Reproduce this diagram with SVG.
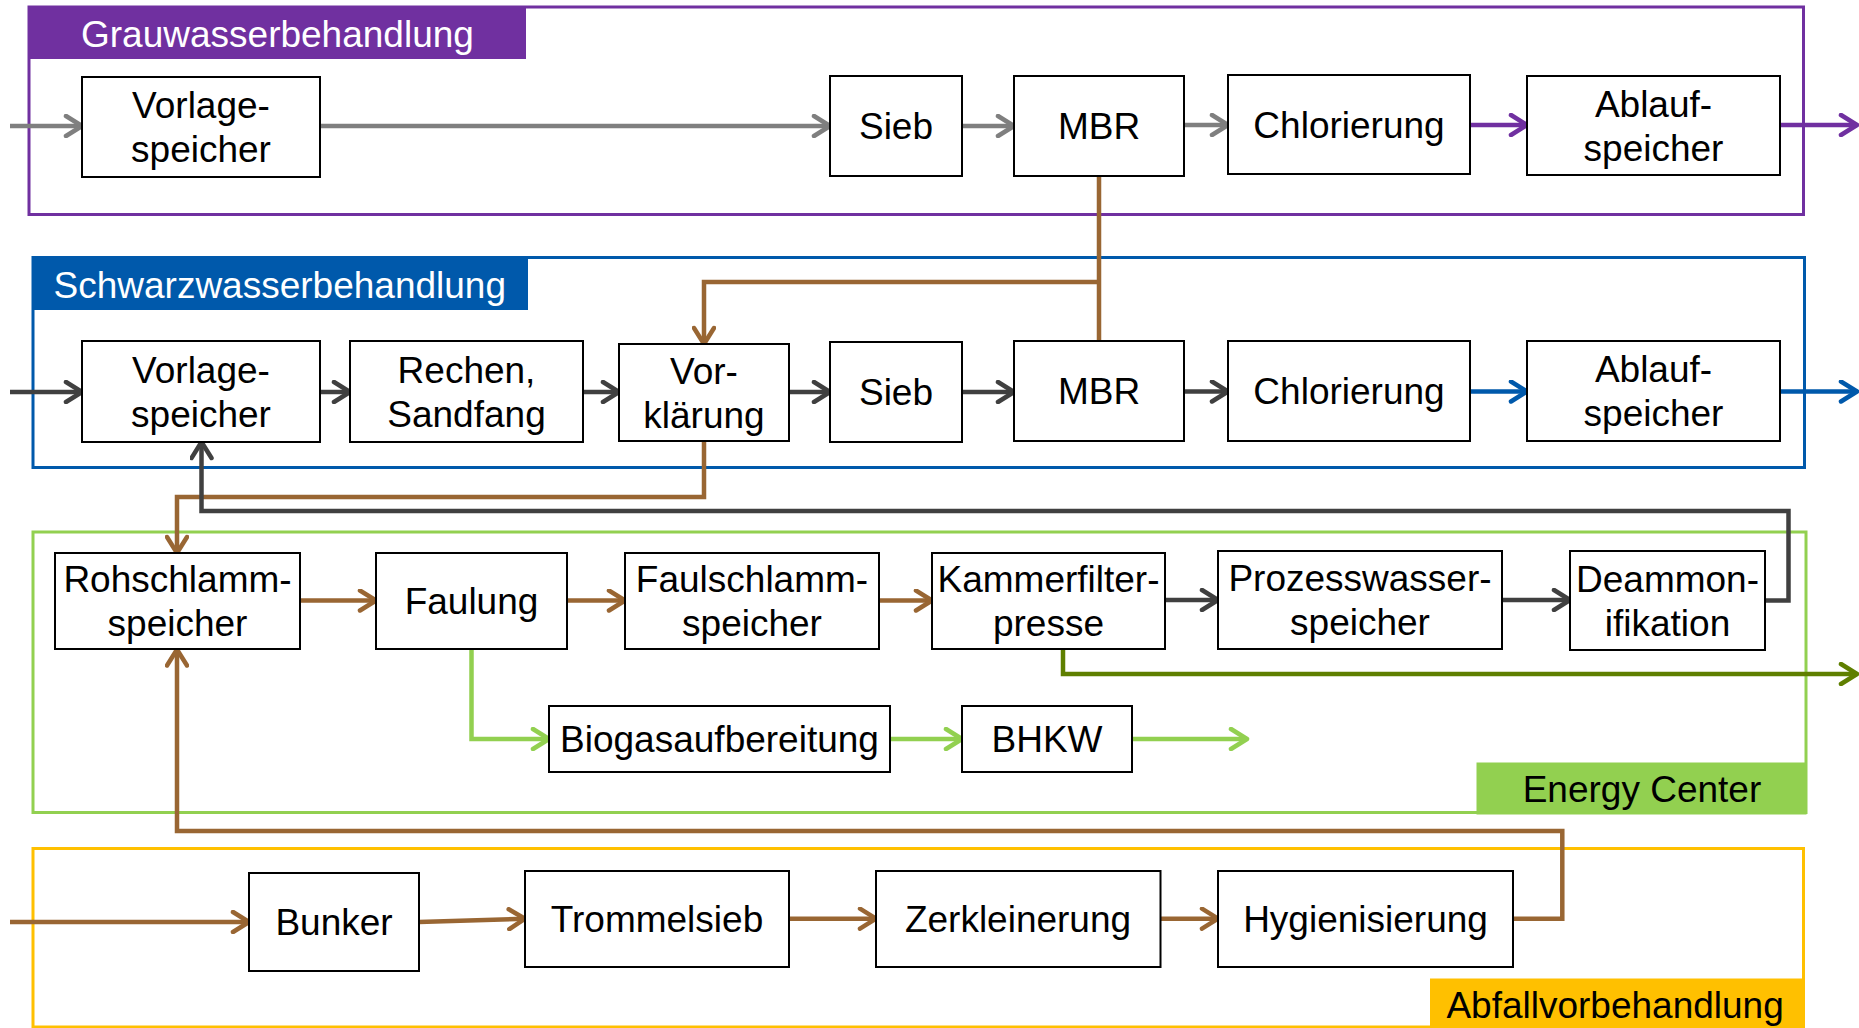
<svg xmlns="http://www.w3.org/2000/svg" width="1859" height="1028" viewBox="0 0 1859 1028">
<style>
text{font-family:"Liberation Sans",Arial,sans-serif;font-size:37px;fill:#000}
.c{text-anchor:middle}
.w{fill:#fff}
.box{fill:#fff;stroke:#000;stroke-width:2}
.fr{fill:none;stroke-width:3}
.ln{fill:none;stroke-width:4.5;stroke-linejoin:miter}
.gy{stroke:#7F7F7F}.pu{stroke:#7030A0}.bl{stroke:#0059AB}.dk{stroke:#404040}.br{stroke:#996633}.gr{stroke:#92D050}.ol{stroke:#5F7F00}
</style>
<defs>
<marker id="mgy" markerUnits="userSpaceOnUse" viewBox="0 0 24 24" markerWidth="24" markerHeight="24" refX="21" refY="12" orient="auto"><path d="M5,2 L21,12 L5,22" fill="none" stroke="#7F7F7F" stroke-width="4.5" stroke-linecap="round" stroke-linejoin="round"/></marker>
<marker id="mpu" markerUnits="userSpaceOnUse" viewBox="0 0 24 24" markerWidth="24" markerHeight="24" refX="21" refY="12" orient="auto"><path d="M5,2 L21,12 L5,22" fill="none" stroke="#7030A0" stroke-width="4.5" stroke-linecap="round" stroke-linejoin="round"/></marker>
<marker id="mbl" markerUnits="userSpaceOnUse" viewBox="0 0 24 24" markerWidth="24" markerHeight="24" refX="21" refY="12" orient="auto"><path d="M5,2 L21,12 L5,22" fill="none" stroke="#0059AB" stroke-width="4.5" stroke-linecap="round" stroke-linejoin="round"/></marker>
<marker id="mdk" markerUnits="userSpaceOnUse" viewBox="0 0 24 24" markerWidth="24" markerHeight="24" refX="21" refY="12" orient="auto"><path d="M5,2 L21,12 L5,22" fill="none" stroke="#404040" stroke-width="4.5" stroke-linecap="round" stroke-linejoin="round"/></marker>
<marker id="mbr" markerUnits="userSpaceOnUse" viewBox="0 0 24 24" markerWidth="24" markerHeight="24" refX="21" refY="12" orient="auto"><path d="M5,2 L21,12 L5,22" fill="none" stroke="#996633" stroke-width="4.5" stroke-linecap="round" stroke-linejoin="round"/></marker>
<marker id="mgr" markerUnits="userSpaceOnUse" viewBox="0 0 24 24" markerWidth="24" markerHeight="24" refX="21" refY="12" orient="auto"><path d="M5,2 L21,12 L5,22" fill="none" stroke="#92D050" stroke-width="4.5" stroke-linecap="round" stroke-linejoin="round"/></marker>
<marker id="mol" markerUnits="userSpaceOnUse" viewBox="0 0 24 24" markerWidth="24" markerHeight="24" refX="21" refY="12" orient="auto"><path d="M5,2 L21,12 L5,22" fill="none" stroke="#5F7F00" stroke-width="4.5" stroke-linecap="round" stroke-linejoin="round"/></marker>
</defs>

<g id="frames">
<g id="grauwasser">
<rect class="fr" x="29" y="7" width="1774.5" height="207.5" stroke="#7030A0"/>
<rect x="29" y="7" width="497" height="52" fill="#7030A0"/>
<text class="w" x="81" y="47">Grauwasserbehandlung</text>
</g>
<g id="schwarzwasser">
<rect class="fr" x="33" y="257.5" width="1771.5" height="210" stroke="#0059AB"/>
<rect x="33" y="257.5" width="495" height="52.5" fill="#0059AB"/>
<text class="w" x="53.5" y="298">Schwarzwasserbehandlung</text>
</g>
<g id="energycenter">
<rect class="fr" x="33" y="532" width="1773" height="280.5" stroke="#92D050"/>
<rect x="1476.5" y="762.5" width="330" height="52" fill="#92D050"/>
<text x="1522.7" y="802">Energy Center</text>
</g>
<g id="abfall">
<rect class="fr" x="33" y="848.5" width="1770.5" height="178.5" stroke="#FFC000"/>
<rect x="1430" y="978.5" width="374" height="49.5" fill="#FFC000"/>
<text x="1446.4" y="1018">Abfallvorbehandlung</text>
</g>
</g>

<g id="connectors">
<path class="ln gy" d="M10,126 H82" marker-end="url(#mgy)"/>
<path class="ln gy" d="M320,126 H830" marker-end="url(#mgy)"/>
<path class="ln gy" d="M962,126 H1014" marker-end="url(#mgy)"/>
<path class="ln gy" d="M1184,125 H1228" marker-end="url(#mgy)"/>
<path class="ln pu" d="M1470,125 H1527" marker-end="url(#mpu)"/>
<path class="ln pu" d="M1780,125 H1857" marker-end="url(#mpu)"/>
<path class="ln br" d="M1099,176 V341"/>
<path class="ln br" d="M1099,282 H704 V344" marker-end="url(#mbr)"/>
<path class="ln dk" d="M10,392 H82" marker-end="url(#mdk)"/>
<path class="ln dk" d="M320,392 H350" marker-end="url(#mdk)"/>
<path class="ln dk" d="M583,392 H619" marker-end="url(#mdk)"/>
<path class="ln dk" d="M789,392 H830" marker-end="url(#mdk)"/>
<path class="ln dk" d="M962,392 H1014" marker-end="url(#mdk)"/>
<path class="ln dk" d="M1184,391.5 H1228" marker-end="url(#mdk)"/>
<path class="ln bl" d="M1470,391.5 H1527" marker-end="url(#mbl)"/>
<path class="ln bl" d="M1780,391.5 H1857" marker-end="url(#mbl)"/>
<path class="ln br" d="M704,441 V497 H177 V553" marker-end="url(#mbr)"/>
<path class="ln dk" d="M1765,600.5 H1788.5 V511 H201.5 V442" marker-end="url(#mdk)"/>
<path class="ln br" d="M300,600.5 H376" marker-end="url(#mbr)"/>
<path class="ln br" d="M567,600.5 H625" marker-end="url(#mbr)"/>
<path class="ln br" d="M879,600.5 H932" marker-end="url(#mbr)"/>
<path class="ln dk" d="M1165,600 H1218" marker-end="url(#mdk)"/>
<path class="ln dk" d="M1502,600 H1570" marker-end="url(#mdk)"/>
<path class="ln ol" d="M1063,649 V674 H1857" marker-end="url(#mol)"/>
<path class="ln gr" d="M471.5,649 V739 H549" marker-end="url(#mgr)"/>
<path class="ln gr" d="M890,739 H962" marker-end="url(#mgr)"/>
<path class="ln gr" d="M1132,739 H1247" marker-end="url(#mgr)"/>
<path class="ln br" d="M10,922 H249" marker-end="url(#mbr)"/>
<path class="ln br" d="M419,922 L525,918.7" marker-end="url(#mbr)"/>
<path class="ln br" d="M789,918.7 H876" marker-end="url(#mbr)"/>
<path class="ln br" d="M1160.5,918.7 H1218" marker-end="url(#mbr)"/>
<path class="ln br" d="M1513,918.7 H1562.3 V831 H177 V649.5" marker-end="url(#mbr)"/>
</g>

<g id="g-vorlage"><rect class="box" x="82" y="77" width="238" height="100"/><text class="c" x="201" y="118">Vorlage-</text><text class="c" x="201" y="162">speicher</text></g>
<g id="g-sieb"><rect class="box" x="830" y="76" width="132" height="100"/><text class="c" x="896" y="139">Sieb</text></g>
<g id="g-mbr"><rect class="box" x="1014" y="76" width="170" height="100"/><text class="c" x="1099" y="139">MBR</text></g>
<g id="g-chlor"><rect class="box" x="1228" y="75" width="242" height="99"/><text class="c" x="1349" y="138">Chlorierung</text></g>
<g id="g-ablauf"><rect class="box" x="1527" y="76" width="253" height="99"/><text class="c" x="1653.5" y="116.5">Ablauf-</text><text class="c" x="1653.5" y="160.5">speicher</text></g>

<g id="s-vorlage"><rect class="box" x="82" y="341" width="238" height="101"/><text class="c" x="201" y="382.5">Vorlage-</text><text class="c" x="201" y="426.5">speicher</text></g>
<g id="s-rechen"><rect class="box" x="350" y="341" width="233" height="101"/><text class="c" x="466.5" y="382.5">Rechen,</text><text class="c" x="466.5" y="426.5">Sandfang</text></g>
<g id="s-vorklaerung"><rect class="box" x="619" y="344" width="170" height="97"/><text class="c" x="704" y="383.5">Vor-</text><text class="c" x="704" y="427.5">klärung</text></g>
<g id="s-sieb"><rect class="box" x="830" y="342" width="132" height="100"/><text class="c" x="896" y="405">Sieb</text></g>
<g id="s-mbr"><rect class="box" x="1014" y="341" width="170" height="100"/><text class="c" x="1099" y="404">MBR</text></g>
<g id="s-chlor"><rect class="box" x="1228" y="341" width="242" height="100"/><text class="c" x="1349" y="404">Chlorierung</text></g>
<g id="s-ablauf"><rect class="box" x="1527" y="341" width="253" height="100"/><text class="c" x="1653.5" y="382">Ablauf-</text><text class="c" x="1653.5" y="426">speicher</text></g>

<g id="e-rohschlamm"><rect class="box" x="55" y="553" width="245" height="96"/><text class="c" x="177.5" y="592">Rohschlamm-</text><text class="c" x="177.5" y="636">speicher</text></g>
<g id="e-faulung"><rect class="box" x="376" y="553" width="191" height="96"/><text class="c" x="471.5" y="614">Faulung</text></g>
<g id="e-faulschlamm"><rect class="box" x="625" y="553" width="254" height="96"/><text class="c" x="752" y="592">Faulschlamm-</text><text class="c" x="752" y="636">speicher</text></g>
<g id="e-kammer"><rect class="box" x="932" y="553" width="233" height="96"/><text class="c" x="1048.5" y="592">Kammerfilter-</text><text class="c" x="1048.5" y="636">presse</text></g>
<g id="e-prozess"><rect class="box" x="1218" y="551" width="284" height="98"/><text class="c" x="1360" y="591">Prozesswasser-</text><text class="c" x="1360" y="635">speicher</text></g>
<g id="e-deammon"><rect class="box" x="1570" y="551" width="195" height="99"/><text class="c" x="1667.5" y="591.5">Deammon-</text><text class="c" x="1667.5" y="635.5">ifikation</text></g>
<g id="e-biogas"><rect class="box" x="549" y="706" width="341" height="66"/><text class="c" x="719.5" y="752">Biogasaufbereitung</text></g>
<g id="e-bhkw"><rect class="box" x="962" y="706" width="170" height="66"/><text class="c" x="1047" y="752">BHKW</text></g>

<g id="a-bunker"><rect class="box" x="249" y="873" width="170" height="98"/><text class="c" x="334" y="935">Bunker</text></g>
<g id="a-trommelsieb"><rect class="box" x="525" y="871" width="264" height="96"/><text class="c" x="657" y="932">Trommelsieb</text></g>
<g id="a-zerkleinerung"><rect class="box" x="876" y="871" width="284.5" height="96"/><text class="c" x="1018" y="932">Zerkleinerung</text></g>
<g id="a-hygienisierung"><rect class="box" x="1218" y="871" width="295" height="96"/><text class="c" x="1365.5" y="932">Hygienisierung</text></g>
</svg>
